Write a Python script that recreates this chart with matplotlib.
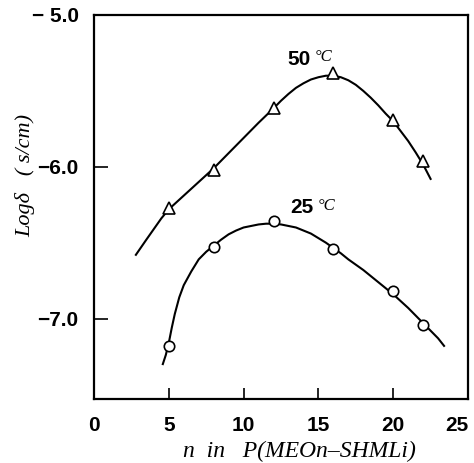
import matplotlib
matplotlib.use("Agg")
import matplotlib.pyplot as plt

# measured points
n_50 = [5, 8, 12, 16, 20, 22]
log_50 = [-6.27, -6.02, -5.61, -5.38, -5.69, -5.96]
n_25 = [5, 8, 12, 16, 20, 22]
log_25 = [-7.18, -6.53, -6.36, -6.54, -6.82, -7.04]

# hand-drawn fit curves
curve_n_50 = [2.8, 3.5, 4.0, 4.5, 5.0, 5.5, 6.0, 6.5, 7.0, 7.5, 8.0, 9.0, 10.0, 11.0, 12.0,
              12.5, 13.0, 13.5, 14.0, 14.5, 15.0, 15.5, 16.0, 16.5, 17.0, 17.5, 18.0, 18.5,
              19.0, 19.5, 20.0, 20.5, 21.0, 21.5, 22.0, 22.5]
curve_log_50 = [-6.58, -6.48, -6.41, -6.34, -6.28, -6.235, -6.19, -6.145, -6.10, -6.055, -6.01, -5.91, -5.81, -5.71, -5.615,
                -5.565, -5.52, -5.48, -5.45, -5.425, -5.41, -5.40, -5.40, -5.41, -5.43, -5.46, -5.50, -5.545,
                -5.595, -5.65, -5.70, -5.765, -5.83, -5.905, -5.985, -6.08]
curve_n_25 = [4.6, 4.8, 5.0, 5.2, 5.4, 5.7, 6.0, 6.5, 7.0, 7.5, 8.0, 8.5, 9.0, 9.5, 10.0, 10.5,
              11.0, 11.5, 12.0, 12.5, 13.0, 13.5, 14.0, 14.5, 15.0, 15.5, 16.0, 16.5, 17.0, 17.5,
              18.0, 18.5, 19.0, 19.5, 20.0, 20.5, 21.0, 21.5, 22.0, 22.5, 23.0, 23.4]
curve_log_25 = [-7.30, -7.24, -7.16, -7.06, -6.97, -6.86, -6.78, -6.69, -6.61, -6.56, -6.52, -6.48, -6.445, -6.42, -6.40, -6.39,
                -6.38, -6.375, -6.375, -6.38, -6.39, -6.40, -6.42, -6.44, -6.47, -6.50, -6.535, -6.57, -6.61, -6.645,
                -6.68, -6.72, -6.76, -6.80, -6.84, -6.885, -6.93, -6.98, -7.03, -7.08, -7.13, -7.18]

x_ticks = [0, 5, 10, 15, 20, 25]
y_ticks = [-5.0, -6.0, -7.0]
y_tick_labels = ["\u2212 5.0", "\u22126.0", "\u22127.0"]

tick_font = ["Liberation Sans Narrow", "Liberation Sans"]

fig = plt.figure(figsize=(4.74, 4.63), dpi=100)
ax = fig.add_axes([94 / 474, 64 / 463, 374 / 474, 384 / 463])

ax.plot(curve_n_50, curve_log_50, color="black", lw=1.5)
ax.plot(curve_n_25, curve_log_25, color="black", lw=1.5)
ax.plot(n_50, log_50, ls="none", marker="^", ms=9, mfc="white", mec="black", mew=1.2)
ax.plot(n_25, log_25, ls="none", marker="o", ms=7.5, mfc="white", mec="black", mew=1.2)

ax.set_xlim(0, 25)
ax.set_ylim(-7.53, -5.0)
ax.set_xticks(x_ticks)
ax.set_yticks(y_ticks)
ax.set_yticklabels(y_tick_labels)
for lab in ax.get_xticklabels() + ax.get_yticklabels():
    lab.set_fontweight("bold")
    lab.set_fontsize(15)
    lab.set_family(tick_font)
ax.get_xticklabels()[-1].set_ha("right")
ax.tick_params(axis="x", direction="in", length=8, width=1.2, pad=12)
ax.tick_params(axis="y", direction="in", length=10, width=1.2, pad=11)
ax.tick_params(top=False, right=False)
for s in ax.spines.values():
    s.set_linewidth(1.6)

ax.text(13.7, -5.29, "50", fontsize=15, fontweight="bold", family=tick_font, ha="center", va="center")
ax.text(15.35, -5.28, "\u00b0C", fontsize=12, family="Liberation Serif", style="italic", ha="center", va="center")
ax.text(13.9, -6.27, "25", fontsize=15, fontweight="bold", family=tick_font, ha="center", va="center")
ax.text(15.55, -6.26, "\u00b0C", fontsize=12, family="Liberation Serif", style="italic", ha="center", va="center")

ax.set_xlabel("n  in   P(MEOn\u2013SHMLi)", family="Liberation Serif", style="italic", fontsize=17)
ax.xaxis.set_label_coords(0.55, -0.11)
ax.set_ylabel("Log\u03b4   ( s/cm)", family="Liberation Serif", style="italic", fontsize=16)
ax.yaxis.set_label_coords(-0.158, 0.583)

fig.savefig("out.png", dpi=100)
